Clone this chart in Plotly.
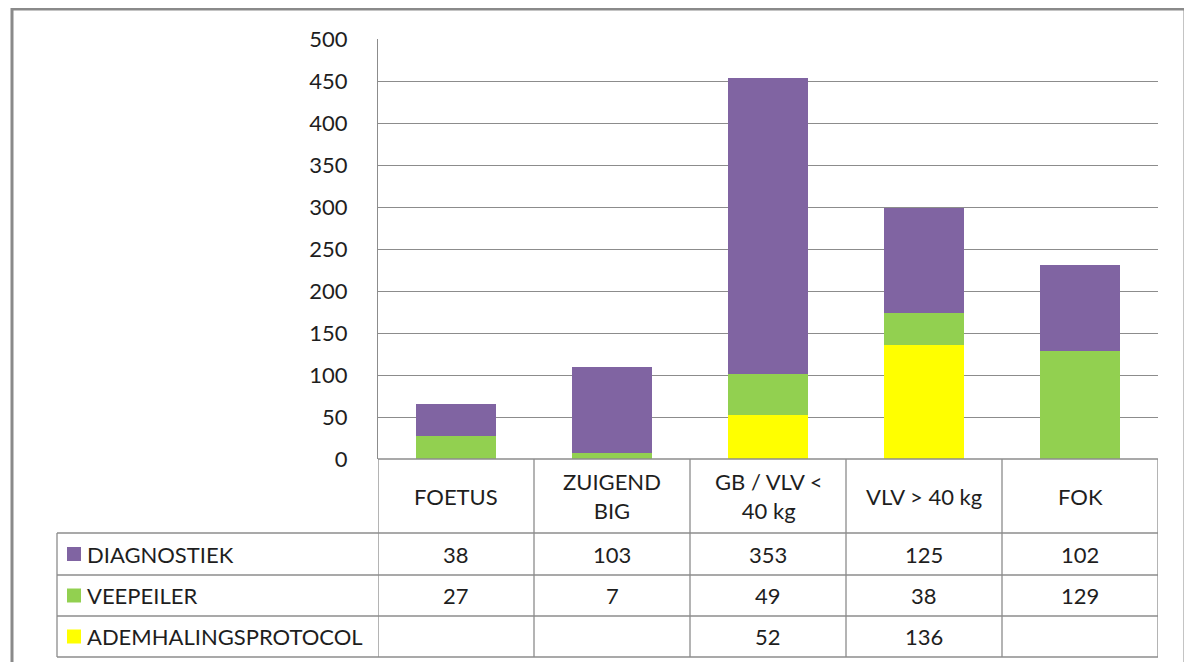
import plotly.graph_objects as go

W, H = 1192, 662

categories = ["FOETUS", "ZUIGEND BIG", "GB / VLV < 40 kg", "VLV > 40 kg", "FOK"]
header_labels = ["FOETUS", "ZUIGEND<br>BIG", "GB / VLV <<br>40 kg", "VLV > 40 kg", "FOK"]
series_names = ["DIAGNOSTIEK", "VEEPEILER", "ADEMHALINGSPROTOCOL"]
diagnostiek = [38, 103, 353, 125, 102]
veepeiler = [27, 7, 49, 38, 129]
ademhaling = [None, None, 52, 136, None]
colors = {"DIAGNOSTIEK": "#8064A2", "VEEPEILER": "#92D050", "ADEMHALINGSPROTOCOL": "#FFFF00"}
y_ticks = list(range(0, 501, 50))

series_values = {"DIAGNOSTIEK": diagnostiek, "VEEPEILER": veepeiler, "ADEMHALINGSPROTOCOL": ademhaling}

FONT = "Lato"
FS = 22
TXT = "#1e1e1e"
GRID = "#8c8c8c"
OFF = 8  # page body margin

def py(p):
    return (H - (p - OFF)) / H

def px(p):
    return (p - OFF) / W

plot_left, plot_right, plot_top, plot_bottom = 378, 1158, 39, 459

fig = go.Figure()
for name in ["ADEMHALINGSPROTOCOL", "VEEPEILER", "DIAGNOSTIEK"]:
    fig.add_trace(go.Bar(x=categories, y=series_values[name], name=name,
                         marker=dict(color=colors[name], line=dict(width=0)),
                         hoverinfo="x+y+name"))

fig.update_layout(
    width=W, height=H, barmode="stack", bargap=0.49,
    margin=dict(l=0, r=0, t=0, b=0, autoexpand=False),
    paper_bgcolor="white", plot_bgcolor="white", showlegend=False,
    font=dict(family=FONT, size=FS, color=TXT),
    xaxis=dict(domain=[px(plot_left), px(plot_right)], range=[-0.5, 4.5],
               showticklabels=False, showgrid=False, zeroline=False, showline=False,
               fixedrange=True, automargin=False),
    yaxis=dict(domain=[py(plot_bottom), py(plot_top)], range=[0, 500],
               tickvals=y_ticks, ticktext=[str(v) for v in y_ticks],
               showgrid=True, gridcolor=GRID, gridwidth=1, zeroline=False,
               showline=True, linecolor=GRID, linewidth=1,
               ticks="", ticklabelstandoff=25, automargin=False,
               tickfont=dict(family=FONT, size=FS, color=TXT), fixedrange=True),
)

shapes = []
# outer frame
shapes.append(dict(type="rect", xref="paper", yref="paper",
                   x0=px(12), x1=px(1185), y0=py(690), y1=py(9),
                   line=dict(color="#8a8a8a", width=3), fillcolor="rgba(0,0,0,0)", layer="above"))

row_lines = [533, 575, 616, 657]
legend_left = 57
LW = 1.3
# top table line
shapes.append(dict(type="line", xref="x", yref="paper", x0=-0.5, x1=4.5,
                   y0=py(plot_bottom), y1=py(plot_bottom), line=dict(color=GRID, width=LW)))
for r in row_lines:
    shapes.append(dict(type="line", xref="paper", yref="paper", x0=px(legend_left), x1=px(plot_right),
                       y0=py(r), y1=py(r), line=dict(color=GRID, width=LW)))
# column lines
for i in range(len(categories) + 1):
    shapes.append(dict(type="line", xref="x", yref="paper", x0=i - 0.5, x1=i - 0.5,
                       y0=py(plot_bottom), y1=py(row_lines[-1]), line=dict(color=GRID, width=LW)))
shapes.append(dict(type="line", xref="paper", yref="paper", x0=px(legend_left), x1=px(legend_left),
                   y0=py(row_lines[0]), y1=py(row_lines[-1]), line=dict(color=GRID, width=LW)))

annotations = []
# header
for c, lab in zip(categories, header_labels):
    annotations.append(dict(x=c, xref="x", y=py((plot_bottom + row_lines[0]) / 2), yref="paper",
                            text=lab, showarrow=False, xanchor="center", yanchor="middle",
                            font=dict(family=FONT, size=FS, color=TXT)))
row_bounds = [(row_lines[0], row_lines[1]), (row_lines[1], row_lines[2]), (row_lines[2], row_lines[3])]
for name, (a, b) in zip(series_names, row_bounds):
    yc = py((a + b) / 2)
    # swatch
    shapes.append(dict(type="rect", xref="paper", yref="paper",
                       x0=px(67), x1=px(81), y0=yc - 7 / H, y1=yc + 7 / H,
                       fillcolor=colors[name], line=dict(width=0)))
    annotations.append(dict(x=px(85), xref="paper", y=yc, yref="paper", text=name,
                            showarrow=False, xanchor="left", yanchor="middle",
                            font=dict(family=FONT, size=FS, color=TXT)))
    for c, v in zip(categories, series_values[name]):
        if v is None:
            continue
        annotations.append(dict(x=c, xref="x", y=yc, yref="paper", text=str(v),
                                showarrow=False, xanchor="center", yanchor="middle",
                                font=dict(family=FONT, size=FS, color=TXT)))

fig.update_layout(shapes=shapes, annotations=annotations)
fig.write_html("out.html")
